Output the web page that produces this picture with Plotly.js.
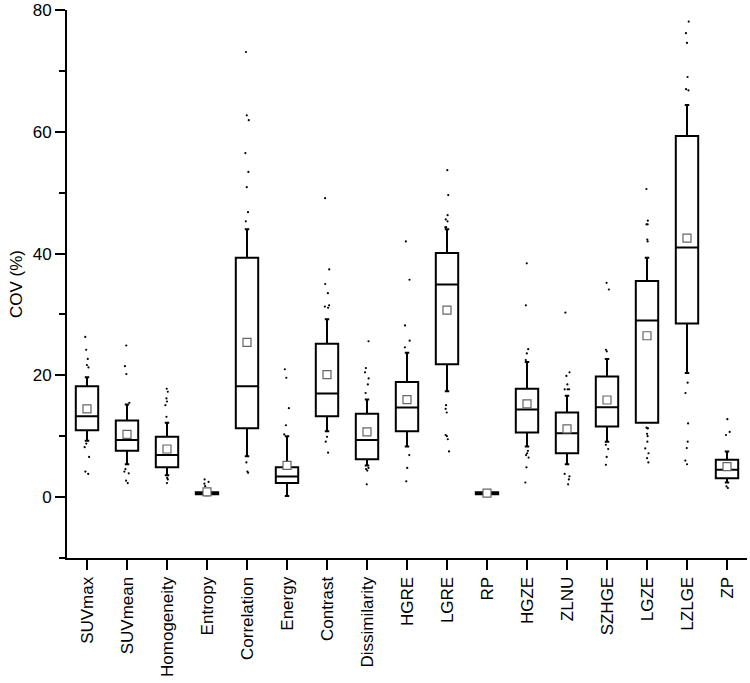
<!DOCTYPE html>
<html>
<head>
<meta charset="utf-8">
<script src="https://cdn.plot.ly/plotly-3.0.1.min.js"></script>
<style>html,body{margin:0;padding:0;background:#fff;}#chart{width:750px;height:683px;}</style>
</head>
<body>
<div id="chart"></div>
<script>
var categories = ["SUVmax","SUVmean","Homogeneity","Entropy","Correlation","Energy","Contrast","Dissimilarity","HGRE","LGRE","RP","HGZE","ZLNU","SZHGE","LGZE","LZLGE","ZP"];
var q1Values     = [11.0, 7.6, 4.9, 0.45, 11.3, 2.3, 13.3, 6.2, 10.8, 21.8, 0.45, 10.6, 7.2, 11.6, 12.2, 28.5, 3.1];
var medianValues = [13.3, 9.4, 6.9, 0.6, 18.2, 3.4, 17.0, 9.4, 14.7, 34.9, 0.6, 14.4, 10.5, 14.75, 29.0, 41.0, 4.5];
var q3Values     = [18.2, 12.6, 9.9, 0.8, 39.3, 4.9, 25.2, 13.7, 18.9, 40.1, 0.8, 17.8, 13.9, 19.8, 35.5, 59.3, 6.15];
var lowerWhisker = [9.25, 5.4, 3.6, 0.3, 6.7, 0.2, 10.8, 5.2, 8.3, 17.4, 0.35, 8.3, 5.4, 9.1, 13.4, 20.4, 2.4];
var upperWhisker = [19.7, 15.2, 12.2, 1.0, 44.0, 10.0, 29.2, 16.05, 23.7, 44.0, 0.9, 22.2, 16.65, 22.7, 39.3, 64.4, 7.5];
var meanValues   = [14.5, 10.3, 7.9, 0.85, 25.4, 5.2, 20.1, 10.7, 16.0, 30.7, 0.65, 15.3, 11.2, 15.95, 26.5, 42.55, 5.0];
var outlierValues = [
  [26.3, 24.2, 22.7, 21.7, 21.3, 8.8, 8.2, 6.6, 4.2, 3.8],
  [24.9, 21.5, 20.2, 15.5, 4.6, 4.2, 3.9, 2.7, 2.3],
  [17.8, 17.3, 16.2, 15.7, 15.1, 13.2, 3.15, 2.9, 2.3],
  [2.9, 2.5, 2.2, 1.8],
  [73.1, 62.7, 61.9, 56.5, 53.4, 50.9, 46.8, 45.3, 5.7, 4.2, 4.0],
  [21.0, 19.6, 14.6, 11.8, 10.3],
  [49.1, 37.4, 35.0, 33.5, 31.5, 31.3, 31.1, 9.9, 9.1, 7.3],
  [25.6, 21.2, 20.5, 19.5, 18.5, 17.1, 4.8, 4.6, 4.35, 2.1],
  [42.0, 35.7, 28.2, 25.7, 24.6, 6.9, 4.8, 2.6],
  [53.7, 49.6, 46.3, 45.6, 45.3, 44.3, 44.3, 44.3, 15.1, 14.5, 13.9, 10.2, 10.0, 9.5, 7.5],
  [],
  [38.4, 31.5, 24.3, 23.6, 22.5, 7.6, 7.2, 6.9, 6.5, 4.9, 2.4],
  [30.3, 20.5, 19.9, 18.5, 17.7, 17.7, 17.7, 3.8, 3.4, 2.9, 2.1],
  [35.2, 34.1, 24.2, 23.95, 8.6, 7.9, 6.6, 5.3],
  [50.6, 45.4, 44.8, 44.8, 42.3, 42.0, 11.4, 11.3, 11.3, 10.4, 10.0, 9.1, 8.0, 7.2, 6.4, 5.7],
  [78.1, 76.2, 74.6, 69.0, 67.0, 66.8, 18.8, 17.1, 12.1, 9.1, 8.05, 6.0, 5.4],
  [12.8, 10.7, 10.2, 1.75, 1.5]
];

var ptsX = [], ptsY = [];
outlierValues.forEach(function(arr, i){
  arr.forEach(function(v){ ptsX.push(categories[i]); ptsY.push(v); });
});

var font = "Liberation Sans, Arial, sans-serif";
var fs = 17;

var boxTrace = {
  type: 'box',
  x: categories,
  q1: q1Values,
  median: medianValues,
  q3: q3Values,
  lowerfence: lowerWhisker,
  upperfence: upperWhisker,
  boxpoints: false,
  line: {color: '#000', width: 2},
  fillcolor: 'rgba(255,255,255,0)',
  whiskerwidth: 0.2,
  hoverinfo: 'skip',
  showlegend: false
};

var pointsTrace = {
  type: 'box',
  x: ptsX,
  y: ptsY,
  boxpoints: 'all',
  jitter: 0.25,
  pointpos: 0,
  line: {color: 'rgba(0,0,0,0)', width: 0},
  fillcolor: 'rgba(0,0,0,0)',
  marker: {color: '#000', size: 2.2},
  hoverinfo: 'skip',
  showlegend: false
};

var meanTrace = {
  type: 'scatter',
  mode: 'markers',
  x: categories,
  y: meanValues,
  marker: {symbol: 'square', size: 8, color: '#fff', line: {width: 1.2, color: '#666'}},
  hoverinfo: 'skip',
  showlegend: false
};

var layout = {
  width: 750,
  height: 683,
  margin: {l: 67, r: 3, t: 10, b: 125},
  paper_bgcolor: '#fff',
  plot_bgcolor: '#fff',
  boxmode: 'overlay',
  boxgap: 0.2,
  font: {family: font, size: fs, color: '#000'},
  xaxis: {
    type: 'category',
    range: [-0.5, 16.5],
    showline: true, linewidth: 2, linecolor: '#000',
    ticks: 'outside', ticklen: 10, tickwidth: 2, tickcolor: '#000',
    tickangle: -90,
    tickfont: {family: font, size: fs, color: '#000'},
    showgrid: false, zeroline: false
  },
  yaxis: {
    range: [-10, 80],
    tickvals: [0, 20, 40, 60, 80],
    showline: true, linewidth: 2, linecolor: '#000',
    ticks: 'outside', ticklen: 10, tickwidth: 2, tickcolor: '#000',
    minor: {dtick: 10, tick0: 0, ticks: 'outside', ticklen: 6, tickwidth: 2, tickcolor: '#000'},
    tickfont: {family: font, size: fs, color: '#000'},
    showgrid: false, zeroline: false,
    title: {text: 'COV (%)', font: {family: font, size: fs, color: '#000'}, standoff: 6}
  }
};

Plotly.newPlot('chart', [boxTrace, pointsTrace, meanTrace], layout, {displayModeBar: false, staticPlot: true});
</script>
</body>
</html>
